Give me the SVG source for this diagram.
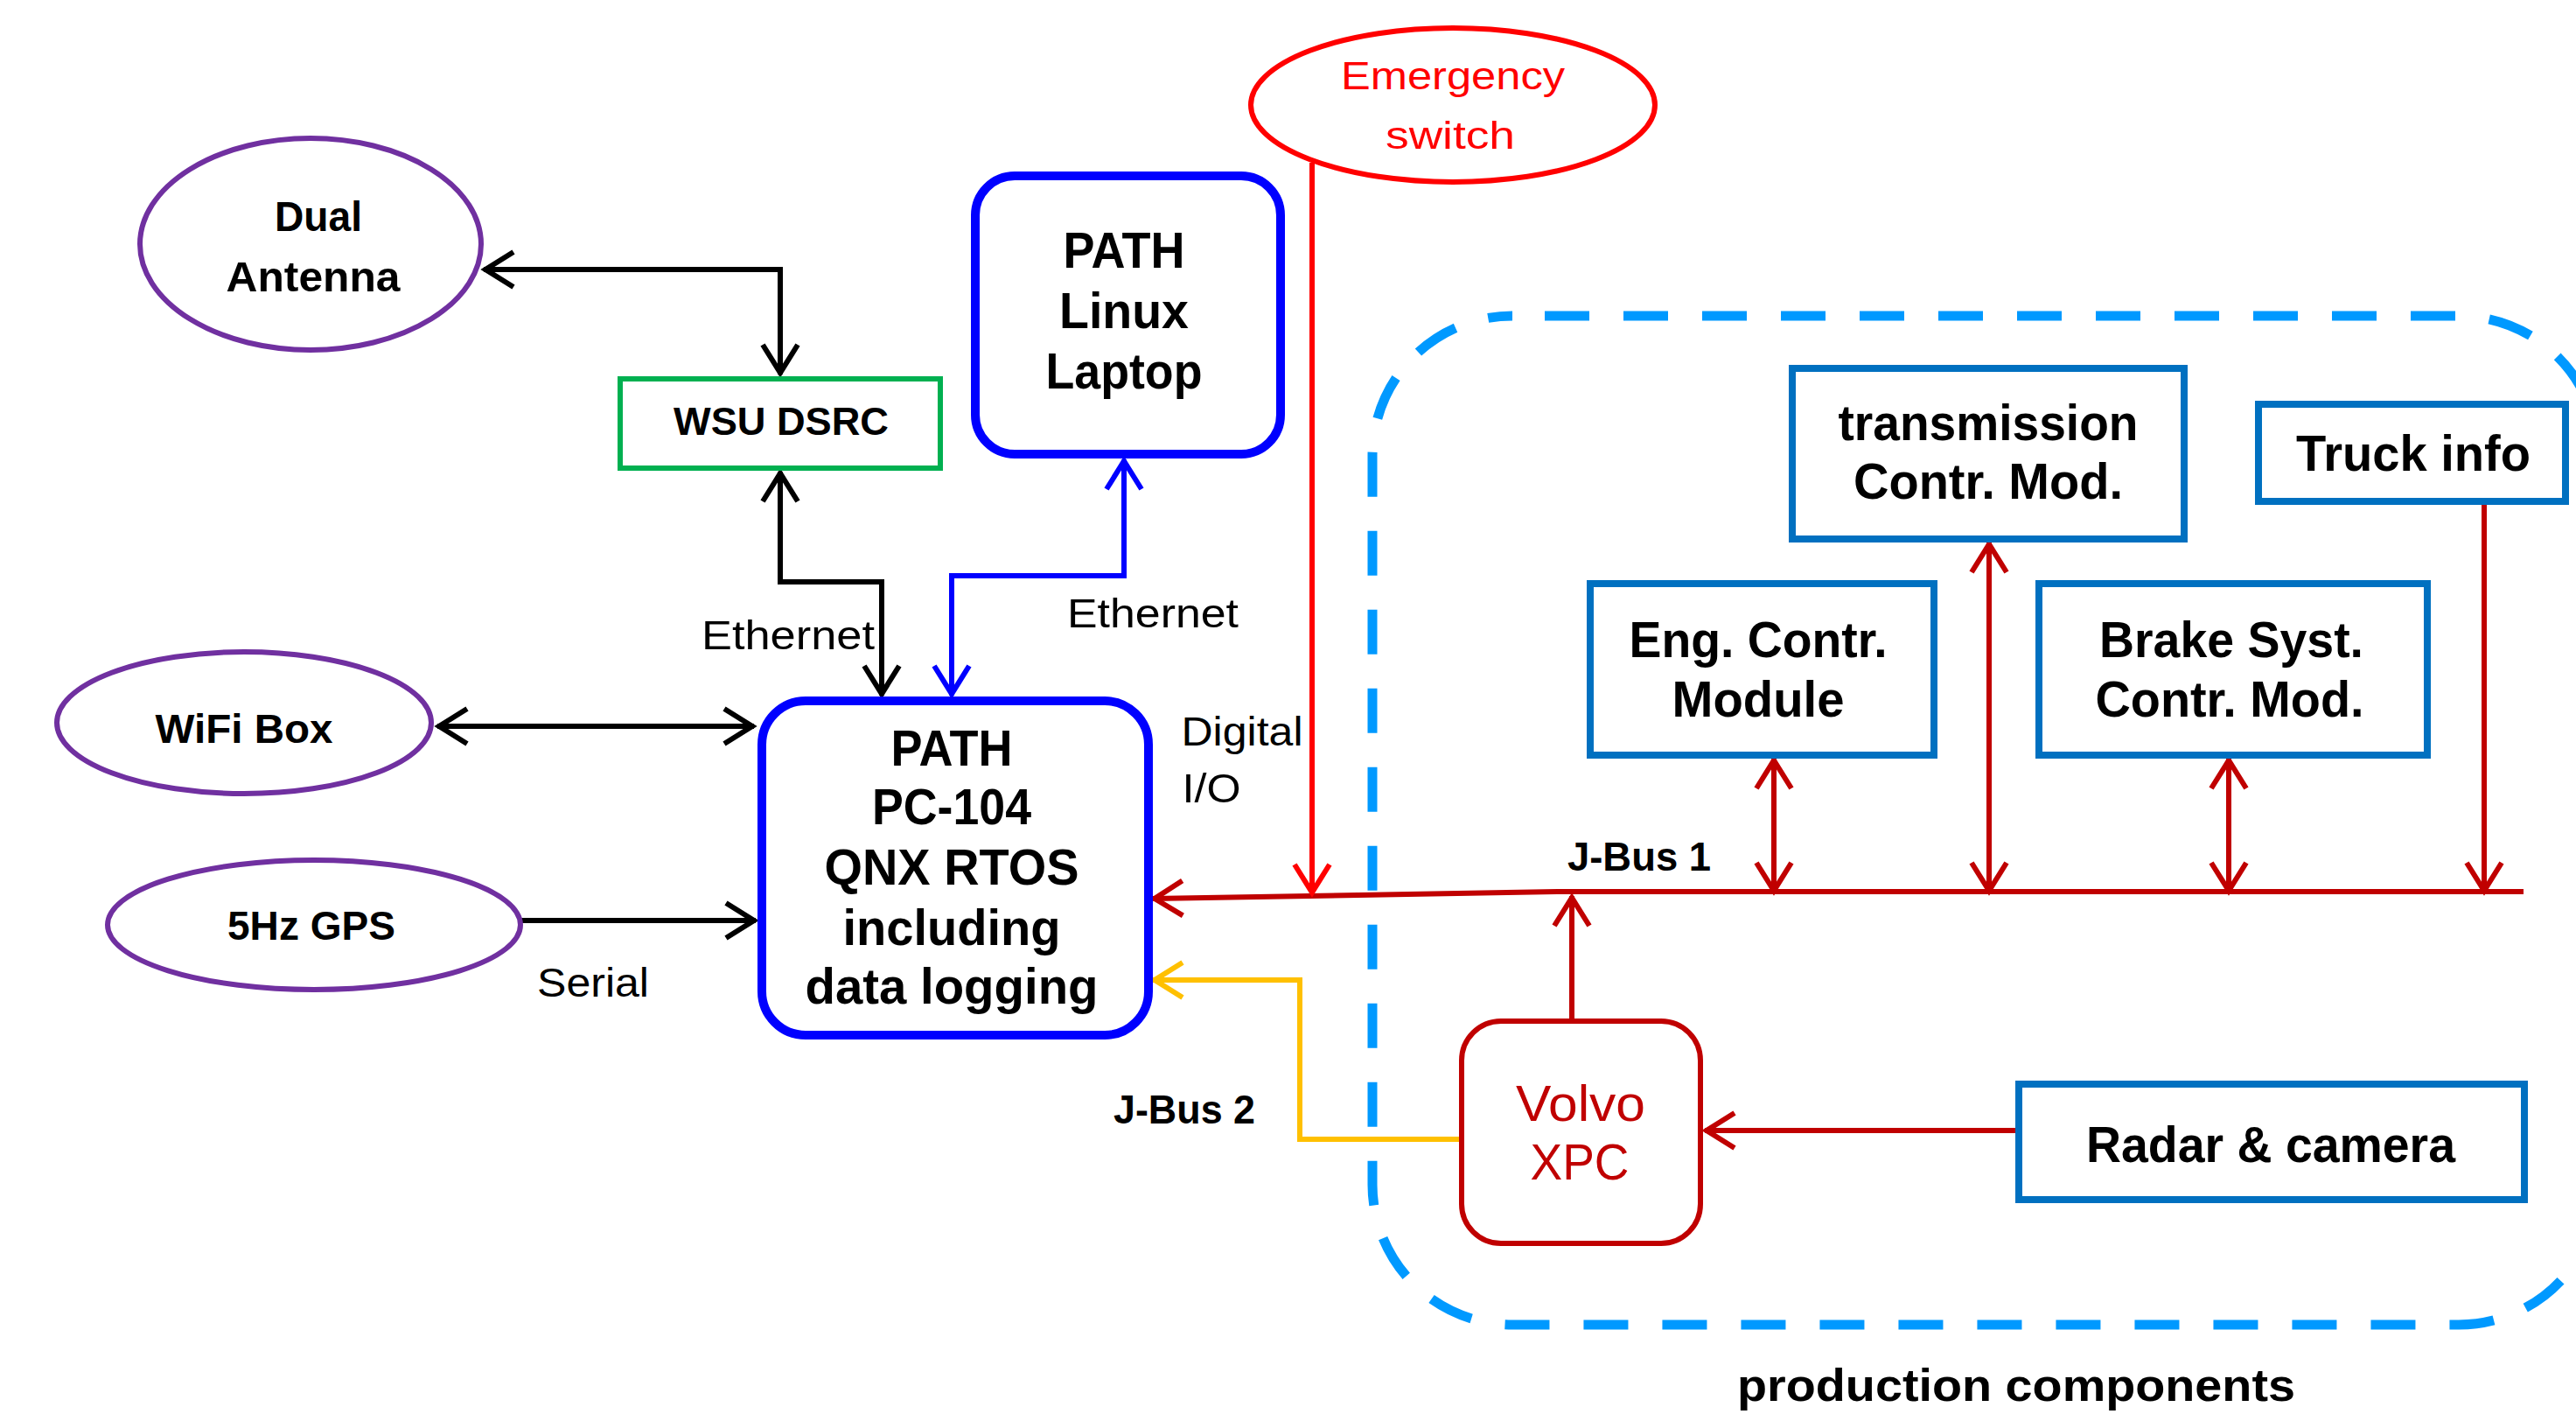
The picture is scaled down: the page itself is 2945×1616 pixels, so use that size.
<svg xmlns="http://www.w3.org/2000/svg" width="2945" height="1616" viewBox="0 0 2945 1616">
<style>
.t{font-family:"Liberation Sans",Arial,sans-serif;text-anchor:middle;fill:#000}
.b{font-weight:bold}
.n{font-weight:normal}
.ell{fill:#fff;stroke:#7030A0;stroke-width:6}
.box{fill:#fff;stroke:#0070C0;stroke-width:8}
.path{fill:#fff;stroke:#0000FF;stroke-width:10}
.ln{fill:none;stroke-width:6;stroke-linejoin:miter}
.k{stroke:#000}
.bl{stroke:#0000FF}
.dr{stroke:#C00000}
.rd{stroke:#FF0000}
.yl{stroke:#FFC000}
.ah{fill:none;stroke-width:6}
</style>
<defs>
<marker id="mk" markerUnits="userSpaceOnUse" markerWidth="60" markerHeight="60" viewBox="-40 -30 60 60" refX="0" refY="0" orient="auto-start-reverse" overflow="visible"><path class="ah" stroke="#000" d="M-34,-20 L-2,0 L-34,20"/></marker>
<marker id="mb" markerUnits="userSpaceOnUse" markerWidth="60" markerHeight="60" viewBox="-40 -30 60 60" refX="0" refY="0" orient="auto-start-reverse" overflow="visible"><path class="ah" stroke="#0000FF" d="M-34,-20 L-2,0 L-34,20"/></marker>
<marker id="md" markerUnits="userSpaceOnUse" markerWidth="60" markerHeight="60" viewBox="-40 -30 60 60" refX="0" refY="0" orient="auto-start-reverse" overflow="visible"><path class="ah" stroke="#C00000" d="M-34,-20 L-2,0 L-34,20"/></marker>
<marker id="mr" markerUnits="userSpaceOnUse" markerWidth="60" markerHeight="60" viewBox="-40 -30 60 60" refX="0" refY="0" orient="auto-start-reverse" overflow="visible"><path class="ah" stroke="#FF0000" d="M-34,-20 L-2,0 L-34,20"/></marker>
<marker id="my" markerUnits="userSpaceOnUse" markerWidth="60" markerHeight="60" viewBox="-40 -30 60 60" refX="0" refY="0" orient="auto-start-reverse" overflow="visible"><path class="ah" stroke="#FFC000" d="M-34,-20 L-2,0 L-34,20"/></marker>
</defs>
<rect width="2945" height="1616" fill="#fff"/>

<g id="production-components">
<rect x="1569" y="361" width="1402" height="1153" rx="160" ry="160" fill="none" stroke="#0099FF" stroke-width="11" stroke-dasharray="51 39" stroke-dashoffset="53"/>
<text class="t b" x="2305" y="1601" font-size="52" textLength="638" lengthAdjust="spacingAndGlyphs">production components</text>
</g>

<g id="connectors">
<path class="ln k" d="M553,308 H892 V428" marker-start="url(#mk)" marker-end="url(#mk)"/>
<path class="ln k" d="M892,539 V665 H1008 V795" marker-start="url(#mk)" marker-end="url(#mk)"/>
<path class="ln bl" d="M1285,525 V658 H1088 V795" marker-start="url(#mb)" marker-end="url(#mb)"/>
<path class="ln k" d="M500,830 H862" marker-start="url(#mk)" marker-end="url(#mk)"/>
<path class="ln k" d="M581,1052 H864" marker-end="url(#mk)"/>
<path class="ln yl" stroke-width="7" d="M1668,1302 H1486 V1120 H1318" marker-end="url(#my)"/>
<path class="ln dr" stroke-width="7" d="M2885,1019 H1780 L1318,1027" marker-end="url(#md)"/>
<path class="ln rd" d="M1500,186 V1022" marker-end="url(#mr)"/>
<path class="ln dr" d="M1797,1167 V1024" marker-end="url(#md)"/>
<path class="ln dr" d="M2028,867 V1020" marker-start="url(#md)" marker-end="url(#md)"/>
<path class="ln dr" d="M2274,620 V1020" marker-start="url(#md)" marker-end="url(#md)"/>
<path class="ln dr" d="M2548,867 V1020" marker-start="url(#md)" marker-end="url(#md)"/>
<path class="ln dr" d="M2840,577 V1020" marker-end="url(#md)"/>
<path class="ln dr" d="M2304,1292 H1949" marker-end="url(#md)"/>
<g id="connector-labels">
<text class="t n" x="901" y="742" font-size="46" textLength="198" lengthAdjust="spacingAndGlyphs">Ethernet</text>
<text class="t n" x="1318" y="717" font-size="46" textLength="196" lengthAdjust="spacingAndGlyphs">Ethernet</text>
<text class="t n" x="678" y="1139" font-size="46" textLength="128" lengthAdjust="spacingAndGlyphs">Serial</text>
<text class="t n" x="1420" y="852" font-size="46" textLength="139" lengthAdjust="spacingAndGlyphs">Digital</text>
<text class="t n" x="1385" y="917" font-size="46" textLength="67" lengthAdjust="spacingAndGlyphs">I/O</text>
<text class="t b" x="1354" y="1284" font-size="46" textLength="162" lengthAdjust="spacingAndGlyphs">J-Bus 2</text>
<text class="t b" x="1874" y="995" font-size="46" textLength="164" lengthAdjust="spacingAndGlyphs">J-Bus 1</text>
</g>
</g>

<g id="dual-antenna">
<ellipse class="ell" cx="355" cy="279" rx="195" ry="121"/>
<text class="t b" x="364" y="264" font-size="48" textLength="100" lengthAdjust="spacingAndGlyphs">Dual</text>
<text class="t b" x="358" y="333" font-size="48" textLength="199" lengthAdjust="spacingAndGlyphs">Antenna</text>
</g>

<g id="wsu-dsrc">
<rect x="709" y="433" width="366" height="102" fill="#fff" stroke="#00B050" stroke-width="6"/>
<text class="t b" x="893" y="497" font-size="44" textLength="246" lengthAdjust="spacingAndGlyphs">WSU DSRC</text>
</g>

<g id="path-linux-laptop">
<rect class="path" x="1115" y="201" width="349" height="318" rx="45" ry="45"/>
<text class="t b" x="1285" y="306" font-size="58" textLength="139" lengthAdjust="spacingAndGlyphs">PATH</text>
<text class="t b" x="1285" y="375" font-size="58" textLength="148" lengthAdjust="spacingAndGlyphs">Linux</text>
<text class="t b" x="1285" y="444" font-size="58" textLength="179" lengthAdjust="spacingAndGlyphs">Laptop</text>
</g>

<g id="path-pc104">
<rect class="path" x="871" y="801" width="442" height="382" rx="50" ry="50"/>
<text class="t b" x="1088" y="875" font-size="57" textLength="139" lengthAdjust="spacingAndGlyphs">PATH</text>
<text class="t b" x="1088" y="942" font-size="57" textLength="182" lengthAdjust="spacingAndGlyphs">PC-104</text>
<text class="t b" x="1088" y="1011" font-size="57" textLength="291" lengthAdjust="spacingAndGlyphs">QNX RTOS</text>
<text class="t b" x="1088" y="1080" font-size="57" textLength="249" lengthAdjust="spacingAndGlyphs">including</text>
<text class="t b" x="1088" y="1147" font-size="57" textLength="335" lengthAdjust="spacingAndGlyphs">data logging</text>
</g>

<g id="wifi-box">
<ellipse class="ell" cx="279" cy="826" rx="214" ry="81"/>
<text class="t b" x="279" y="849" font-size="46" textLength="203" lengthAdjust="spacingAndGlyphs">WiFi Box</text>
</g>

<g id="gps-5hz">
<ellipse class="ell" cx="359" cy="1057" rx="236" ry="74"/>
<text class="t b" x="356" y="1074" font-size="46" textLength="192" lengthAdjust="spacingAndGlyphs">5Hz GPS</text>
</g>

<g id="emergency-switch">
<ellipse cx="1661" cy="120" rx="231" ry="88" fill="#fff" stroke="#FF0000" stroke-width="6"/>
<text class="t n" x="1661" y="102" font-size="45" fill="#FF0000" style="fill:#FF0000" textLength="256" lengthAdjust="spacingAndGlyphs">Emergency</text>
<text class="t n" x="1658" y="170" font-size="45" style="fill:#FF0000" textLength="148" lengthAdjust="spacingAndGlyphs">switch</text>
</g>

<g id="transmission">
<rect class="box" x="2049" y="421" width="448" height="195"/>
<text class="t b" x="2273" y="503" font-size="57" textLength="343" lengthAdjust="spacingAndGlyphs">transmission</text>
<text class="t b" x="2273" y="570" font-size="57" textLength="308" lengthAdjust="spacingAndGlyphs">Contr. Mod.</text>
</g>

<g id="truck-info">
<rect class="box" x="2582" y="462" width="351" height="111"/>
<text class="t b" x="2759" y="538" font-size="57" textLength="268" lengthAdjust="spacingAndGlyphs">Truck info</text>
</g>

<g id="engine-control">
<rect class="box" x="1818" y="667" width="393" height="196"/>
<text class="t b" x="2010" y="751" font-size="57" textLength="295" lengthAdjust="spacingAndGlyphs">Eng. Contr.</text>
<text class="t b" x="2010" y="819" font-size="57" textLength="197" lengthAdjust="spacingAndGlyphs">Module</text>
</g>

<g id="brake-control">
<rect class="box" x="2331" y="667" width="444" height="196"/>
<text class="t b" x="2551" y="751" font-size="57" textLength="302" lengthAdjust="spacingAndGlyphs">Brake Syst.</text>
<text class="t b" x="2549" y="819" font-size="57" textLength="307" lengthAdjust="spacingAndGlyphs">Contr. Mod.</text>
</g>

<g id="radar-camera">
<rect class="box" x="2308" y="1239" width="578" height="132"/>
<text class="t b" x="2596" y="1328" font-size="57" textLength="422" lengthAdjust="spacingAndGlyphs">Radar &amp; camera</text>
</g>

<g id="volvo-xpc">
<rect x="1671" y="1167" width="273" height="254" rx="45" ry="45" fill="#fff" stroke="#C00000" stroke-width="6"/>
<text class="t n" x="1807" y="1281" font-size="57" style="fill:#C00000" textLength="148" lengthAdjust="spacingAndGlyphs">Volvo</text>
<text class="t n" x="1806" y="1348" font-size="57" style="fill:#C00000" textLength="113" lengthAdjust="spacingAndGlyphs">XPC</text>
</g>
</svg>
